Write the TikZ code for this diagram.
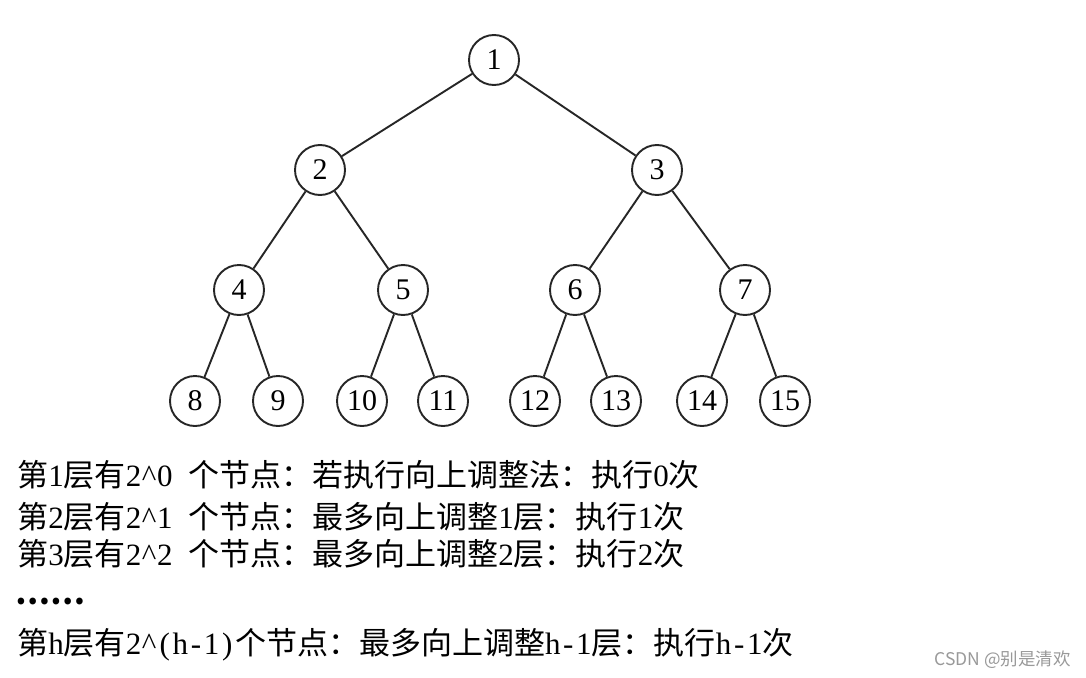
\documentclass[tikz,border=0pt]{standalone}
\usepackage{fontspec}
\setmainfont{Liberation Serif}
\newfontfamily\cjk{Noto Sans CJK SC}
\newcommand\hw[1]{\makebox[15.6pt]{\rmfamily #1}}
\begin{document}
\begin{tikzpicture}[x=1pt,y=-1pt,
  tn/.style={circle,draw=black!85,line width=1.9pt,minimum size=50pt,inner sep=0pt,font=\fontsize{30}{32}\selectfont},
  edge/.style={draw=black!85,line width=1.9pt},
  txt/.style={anchor=west,inner sep=0pt,font=\cjk\fontsize{31}{33}\selectfont}]
\fill[white] (0,0) rectangle (1086,677);
\useasboundingbox (0,0) rectangle (1086,677);
\node[tn] (n1) at (494,60) {1};
\node[tn] (n2) at (320,170) {2};
\node[tn] (n3) at (657,170) {3};
\node[tn] (n4) at (239,290) {4};
\node[tn] (n5) at (403,290) {5};
\node[tn] (n6) at (575,290) {6};
\node[tn] (n7) at (745,290) {7};
\node[tn] (n8) at (195,401) {8};
\node[tn] (n9) at (278,401) {9};
\node[tn] (n10) at (362,401) {10};
\node[tn] (n11) at (443,401) {11};
\node[tn] (n12) at (535,401) {12};
\node[tn] (n13) at (616,401) {13};
\node[tn] (n14) at (702,401) {14};
\node[tn] (n15) at (785,401) {15};
\foreach \a/\b in {n1/n2,n1/n3,n2/n4,n2/n5,n3/n6,n3/n7,n4/n8,n4/n9,n5/n10,n5/n11,n6/n12,n6/n13,n7/n14,n7/n15}
  \draw[edge] (\a) -- (\b);
\node[txt] (l1) at (17,475) {第\hw{1}层有\hw{2}\hw{\^{}}\hw{0}\hw{}个节点：若执行向上调整法：执行\hw{0}次};
\node[txt] (l2) at (17,517) {第\hw{2}层有\hw{2}\hw{\^{}}\hw{1}\hw{}个节点：最多向上调整\hw{1}层：执行\hw{1}次};
\node[txt] (l3) at (17,554) {第\hw{3}层有\hw{2}\hw{\^{}}\hw{2}\hw{}个节点：最多向上调整\hw{2}层：执行\hw{2}次};
\node[txt] (l4) at (15,601) {\bfseries ……};
\node[txt] (l5) at (17,645) {第\hw{h}层有\hw{2}\hw{\^{}}\hw{(}\hw{h}\hw{-}\hw{1}\hw{)}个节点：最多向上调整\hw{h}\hw{-}\hw{1}层：执行\hw{h}\hw{-}\hw{1}次};
\node[anchor=east,inner sep=0pt,text=black!40,font=\cjk\fontsize{17.5}{19}\selectfont] (wm) at (1071,660) {CSDN @别是清欢};
\end{tikzpicture}
\end{document}
